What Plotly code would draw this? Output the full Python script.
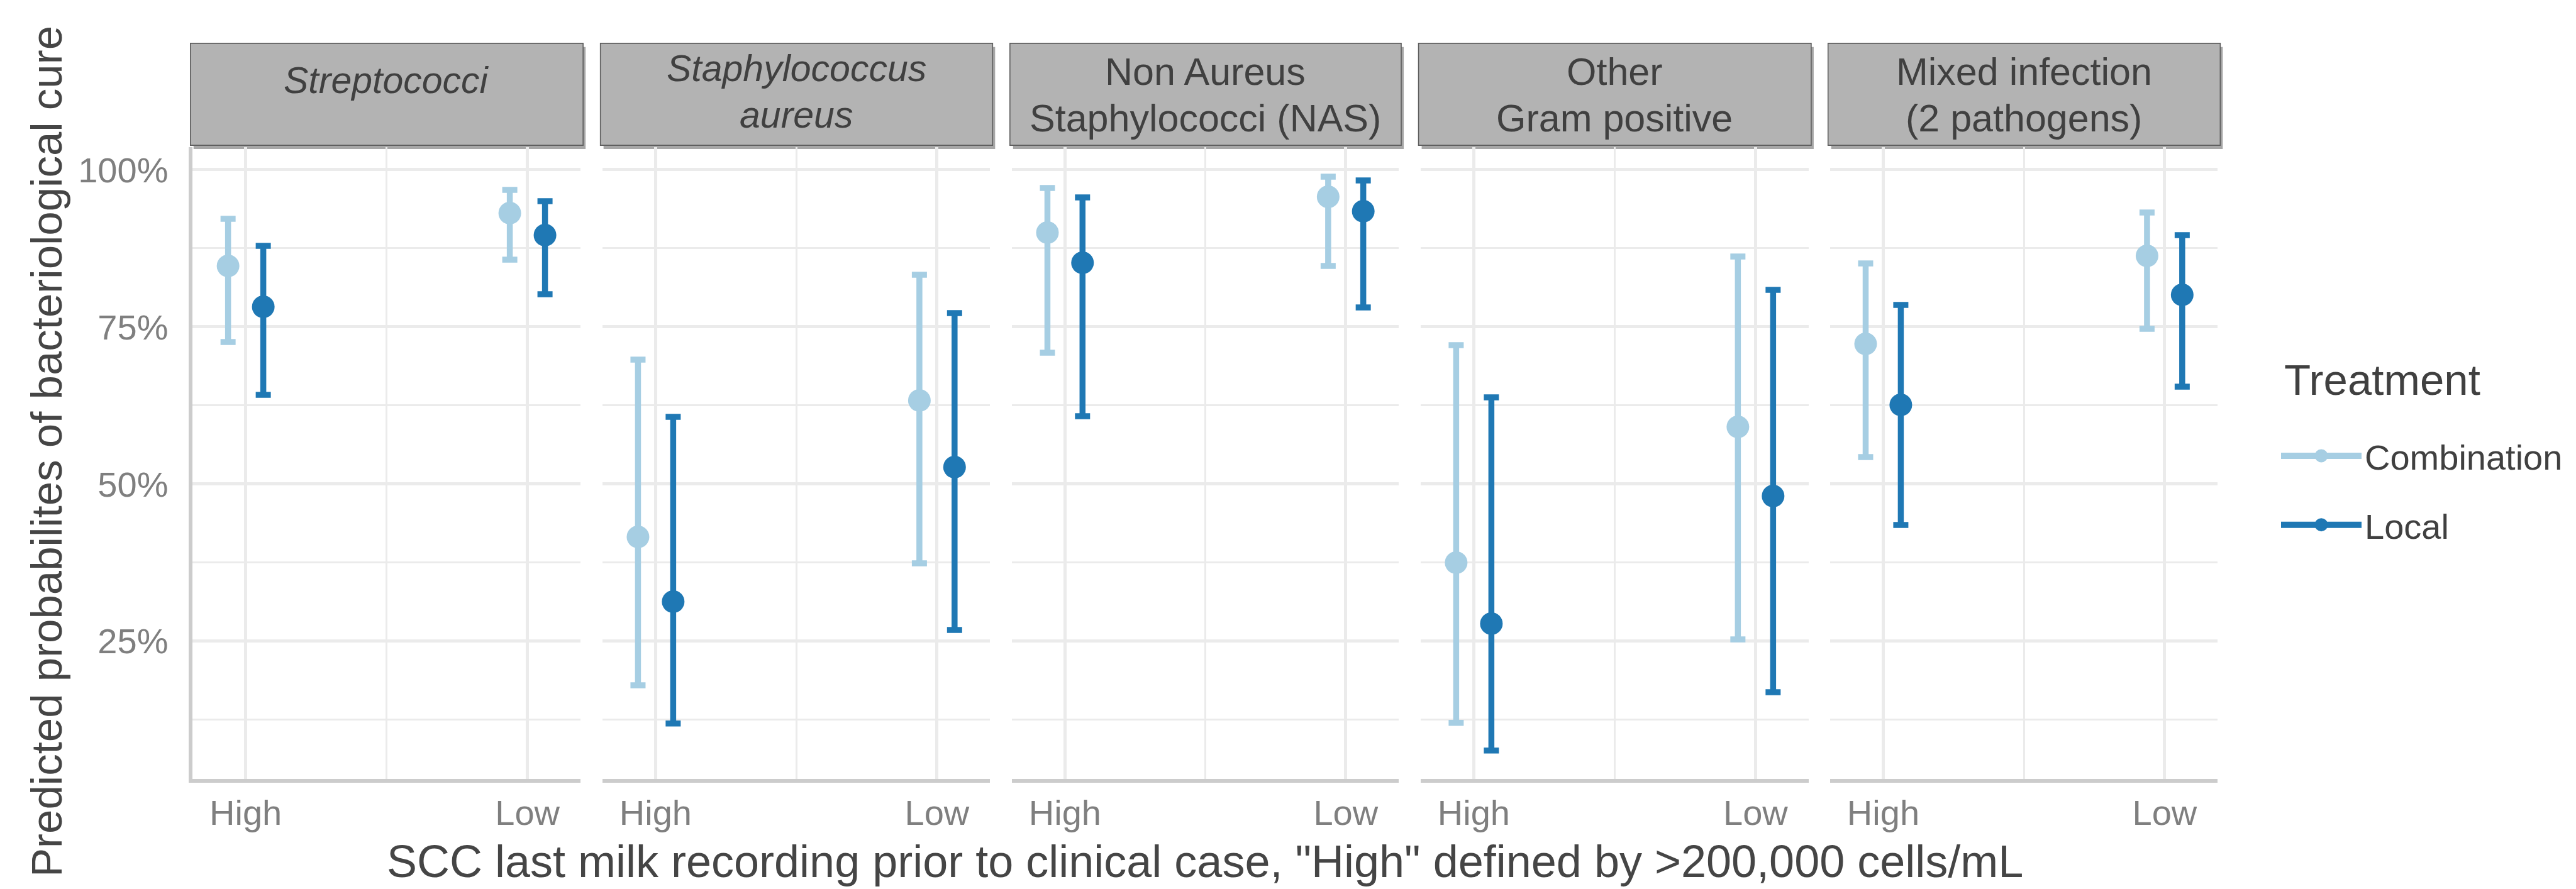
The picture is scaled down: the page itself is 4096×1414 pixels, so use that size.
import plotly.graph_objects as go

# ---------------- data ----------------
pathogens = ["Streptococci", "Staphylococcus aureus", "Non Aureus Staphylococci (NAS)",
             "Other Gram positive", "Mixed infection (2 pathogens)"]
strip_lines = [["<i>Streptococci</i>"],
               ["<i>Staphylococcus</i>", "<i>aureus</i>"],
               ["Non Aureus", "Staphylococci (NAS)"],
               ["Other", "Gram positive"],
               ["Mixed infection", "(2 pathogens)"]]
scc_levels = ["High", "Low"]
treatments = ["Combination", "Local"]

# values per pathogen: [High, Low]
comb_est = [[0.847, 0.931], [0.416, 0.633], [0.900, 0.957], [0.375, 0.591], [0.723, 0.863]]
comb_lo = [[0.726, 0.857], [0.180, 0.374], [0.709, 0.847], [0.120, 0.253], [0.543, 0.747]]
comb_hi = [[0.922, 0.968], [0.698, 0.833], [0.971, 0.989], [0.721, 0.862], [0.851, 0.932]]
local_est = [[0.782, 0.896], [0.313, 0.527], [0.852, 0.934], [0.278, 0.481], [0.626, 0.801]]
local_lo = [[0.642, 0.802], [0.119, 0.268], [0.608, 0.781], [0.076, 0.169], [0.435, 0.655]]
local_hi = [[0.879, 0.950], [0.607, 0.772], [0.956, 0.983], [0.638, 0.809], [0.785, 0.896]]

y_ticks = [0.25, 0.50, 0.75, 1.00]
y_minor = [0.125, 0.375, 0.625, 0.875]

# ---------------- styling / layout ----------------
W, H = 4096, 1414
REF_W, REF_H = 5655, 1952
FONT = "Liberation Sans, Arial, sans-serif"
colors = {"Combination": "#A6CEE3", "Local": "#1F78B4"}
dodge = {"Combination": -0.0625, "Local": 0.0625}

panel_left = [412, 1312, 2211, 3108, 4007]
panel_right = [1263, 2162, 3059, 3959, 4857]
panel_top, panel_bottom = 312, 1700
strip_top, strip_bottom = 84, 308

def px(xr):
    return xr / REF_W

def py(yr):
    return 1 - yr / REF_H

series = {
    "Combination": (comb_est, comb_lo, comb_hi),
    "Local": (local_est, local_lo, local_hi),
}

fig = go.Figure()
shapes = []
annotations = []

for i, name in enumerate(pathogens):
    ax = "" if i == 0 else str(i + 1)
    for t in treatments:
        est, lo, hi = series[t]
        xs = [k + 1 + dodge[t] for k in range(len(scc_levels))]
        ys = est[i]
        fig.add_trace(go.Scatter(
            x=xs, y=ys, mode="markers",
            xaxis="x" + ax, yaxis="y" + ax,
            marker=dict(color=colors[t], size=36, line=dict(width=0)),
            error_y=dict(type="data", symmetric=False,
                         array=[h - e for h, e in zip(hi[i], ys)],
                         arrayminus=[e - l for e, l in zip(ys, lo[i])],
                         color=colors[t], thickness=9.5, width=12),
            name=t, legendgroup=t, showlegend=False,
            hovertemplate=name + "<br>%{text}<br>" + t + ": %{y:.1%}<extra></extra>",
            text=scc_levels,
        ))

    xdom = [px(panel_left[i]), px(panel_right[i])]
    ydom = [py(panel_bottom), py(panel_top)]
    fig.update_layout(**{
        "xaxis" + ax: dict(
            domain=xdom, anchor="y" + ax, range=[0.812, 2.188],
            tickvals=[1, 2], ticktext=scc_levels, ticks="",
            showgrid=True, gridcolor="#EBEBEB", gridwidth=5,
            minor=dict(tickvals=[1.5], showgrid=True, gridcolor="#EBEBEB", gridwidth=2.6),
            showline=True, linecolor="#CCCCCC", linewidth=5.5,
            zeroline=False, ticklabelstandoff=0,
            tickfont=dict(family=FONT, size=56, color="#7F7F7F"),
        ),
        "yaxis" + ax: dict(
            domain=ydom, anchor="x" + ax, range=[0.0304, 1.036],
            tickvals=y_ticks, tickformat=".0%", ticks="",
            showticklabels=(i == 0),
            showgrid=True, gridcolor="#EBEBEB", gridwidth=5,
            minor=dict(tickvals=y_minor, showgrid=True, gridcolor="#EBEBEB", gridwidth=2.6),
            showline=(i == 0), linecolor="#CCCCCC", linewidth=5.5,
            zeroline=False, ticklabelstandoff=22,
            tickfont=dict(family=FONT, size=56, color="#7F7F7F"),
        ),
    })

    # strip (facet header) with drop shadow
    sx0, sx1 = px(panel_left[i] - 5), px(panel_right[i] + 6)
    sy0, sy1 = py(strip_bottom), py(strip_top)
    shapes.append(dict(type="rect", xref="paper", yref="paper",
                       x0=sx0 + 5 / W, x1=sx1 + 4 / W, y0=sy0 - 6 / H, y1=sy1 - 6 / H,
                       fillcolor="#8A8A8A", opacity=0.75, line=dict(width=0), layer="below"))
    shapes.append(dict(type="rect", xref="paper", yref="paper",
                       x0=sx0, x1=sx1, y0=sy0, y1=sy1,
                       fillcolor="#B3B3B3", line=dict(color="#5E5E5E", width=1.6), layer="below"))
    cx = (panel_left[i] + panel_right[i]) / 2
    lines = strip_lines[i]
    italic = lines[0].startswith("<i>")
    if len(lines) == 1:
        line_y = [166]
    elif italic:
        line_y = [140, 242]
    else:
        line_y = [147, 249]
    for txt, yy in zip(lines, line_y):
        annotations.append(dict(text=txt, x=px(cx), y=py(yy), xref="paper", yref="paper",
                                xanchor="center", yanchor="middle", showarrow=False,
                                font=dict(family=FONT, size=59 if italic else 61,
                                          color="#404040")))

# legend-only glyph traces
for t in treatments:
    fig.add_trace(go.Scatter(
        x=[None], y=[None], mode="lines+markers", name=t, legendgroup=t,
        line=dict(color=colors[t], width=10),
        marker=dict(color=colors[t], size=30, line=dict(color=colors[t], width=5)),
        xaxis="x", yaxis="y", showlegend=True,
    ))

# legend title
annotations.append(dict(
    text="Treatment", x=3622 / W, y=1 - 596 / H, xref="paper", yref="paper",
    xanchor="left", yanchor="middle", showarrow=False,
    font=dict(family=FONT, size=69, color="#404040")))

# axis titles
annotations.append(dict(
    text='SCC last milk recording prior to clinical case, "High" defined by >200,000 cells/mL',
    x=px((panel_left[0] + panel_right[-1]) / 2), y=py(1880), xref="paper", yref="paper",
    xanchor="center", yanchor="middle", showarrow=False,
    font=dict(family=FONT, size=72, color="#454545")))
annotations.append(dict(
    text="Predicted probabilites of bacteriological cure",
    x=px(91), y=1 - 710 / H, xref="paper", yref="paper",
    xanchor="center", yanchor="middle", showarrow=False, textangle=-90,
    font=dict(family=FONT, size=69, color="#454545")))

fig.update_layout(
    width=W, height=H,
    margin=dict(l=0, r=0, t=0, b=0),
    paper_bgcolor="white", plot_bgcolor="white",
    shapes=shapes, annotations=annotations,
    showlegend=True,
    legend=dict(
        x=3614 / W, y=1 - 674 / H, xanchor="left", yanchor="top",
        font=dict(family=FONT, size=56, color="#404040"),
        bgcolor="rgba(0,0,0,0)", tracegroupgap=34, itemwidth=128,
    ),
    font=dict(family=FONT),
)

fig.write_html("out.html")
